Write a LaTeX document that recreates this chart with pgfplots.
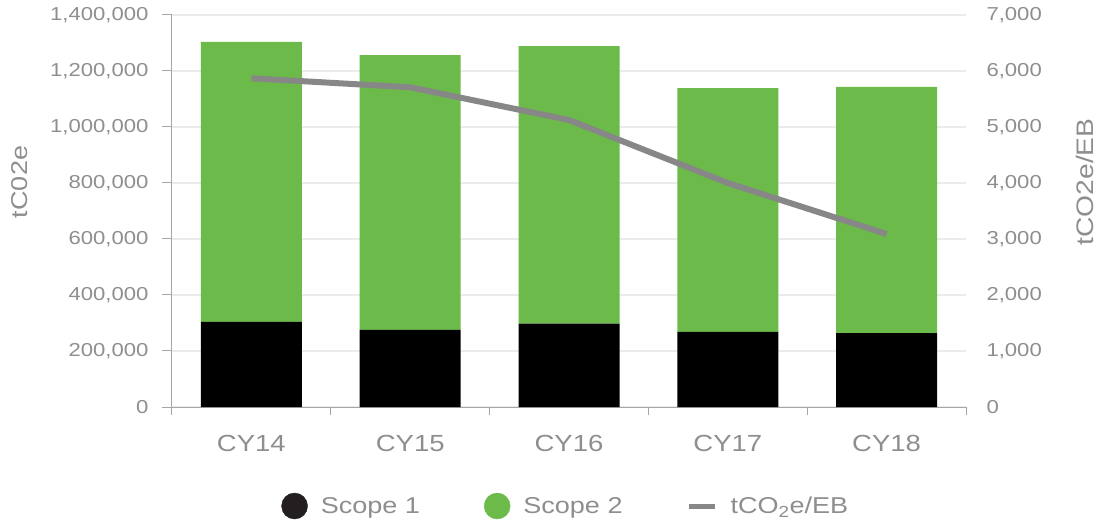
\documentclass[border=0pt]{standalone}
\usepackage{fontspec}
\setmainfont{Liberation Sans}[FakeStretch=1.18]
\usepackage{pgfplots}
\pgfplotsset{compat=1.18}
\definecolor{txt}{HTML}{8E8E8E}
\definecolor{grn}{HTML}{6CBB4A}
\definecolor{blk}{HTML}{000000}
\definecolor{lgblk}{HTML}{231F20}
\definecolor{ln}{HTML}{878787}
\definecolor{grd}{HTML}{EBEBEB}
\definecolor{axc}{HTML}{A6A6A6}
\begin{document}
\begin{tikzpicture}
\path[use as bounding box] (-172bp,-120bp) rectangle (941bp,407bp);
\begin{axis}[
  at={(0,0)}, anchor=south west,
  scale only axis, width=794bp, height=392bp,
  xmin=-0.5, xmax=4.5, ymin=0, ymax=1400000,
  ytick={0,200000,400000,600000,800000,1000000,1200000,1400000},
  scaled y ticks=false,
  /pgf/number format/assume math mode=true,
  yticklabel style={/pgf/number format/fixed, /pgf/number format/precision=0, /pgf/number format/1000 sep={,}, font=\fontsize{18.8}{22}\selectfont, color=txt, xshift=-10bp},
  ybar stacked, bar width=0.636,
  axis lines*=left,
  axis line style={axc, line width=1bp},
  xtick={0,1,2,3,4},
  xticklabels={CY14,CY15,CY16,CY17,CY18},
  xticklabel style={font=\fontsize{23.4}{27}\selectfont, color=txt, yshift=-15bp},
  major x tick style={draw=none},
  minor xtick={-0.5,0.5,1.5,2.5,3.5,4.5},
  tick align=outside,
  major tick length=10bp, minor tick length=8bp,
  tick style={axc, line width=1bp},
  ymajorgrids, grid style={grd, line width=1.5bp},
  ylabel={tC02e},
  every axis y label/.style={at={(rel axis cs:0,0.574)}, rotate=90, anchor=center, yshift=152bp, font=\fontsize{23}{27}\selectfont, color=txt},
]
\addplot[fill=blk, draw=none] coordinates {(0,303600) (1,275000) (2,297500) (3,267900) (4,264000)};
\addplot[fill=grn, draw=none] coordinates {(0,1000000) (1,982000) (2,991500) (3,871100) (4,879000)};
\end{axis}
\begin{axis}[
  at={(0,0)}, anchor=south west,
  scale only axis, width=794bp, height=392bp,
  xmin=-0.5, xmax=4.5, ymin=0, ymax=7000,
  ytick={0,1000,2000,3000,4000,5000,6000,7000},
  axis y line*=right, axis x line=none,
  y axis line style={draw=none},
  ytick style={draw=none},
  /pgf/number format/assume math mode=true,
  yticklabel style={/pgf/number format/fixed, /pgf/number format/precision=0, /pgf/number format/1000 sep={,}, font=\fontsize{18.8}{22}\selectfont, color=txt, xshift=17bp},
  ylabel={tCO2e/EB},
  every axis y label/.style={at={(rel axis cs:1,0.574)}, rotate=90, anchor=center, yshift=-119bp, font=\fontsize{24}{28}\selectfont, color=txt},
  legend columns=3,
  legend style={draw=none, fill=none, at={(0.496,-0.2526)}, anchor=center,
    font=\fontsize{23}{27}\selectfont, text=txt,
    /tikz/every odd column/.append style={column sep=11bp},
    /tikz/every even column/.append style={column sep=62bp}},
]
\addlegendimage{legend image code/.code={\fill[lgblk] (13bp,0bp) circle (13bp);}}
\addlegendentry{Scope 1}
\addlegendimage{legend image code/.code={\fill[grn] (13bp,0bp) circle (13bp);}}
\addlegendentry{Scope 2}
\addplot[ln, line width=6bp, legend image code/.code={\draw[ln, line width=5bp] (0bp,0bp) -- (26bp,0bp);}] coordinates {(0,5870) (1,5709) (2,5125) (3,4000) (4,3089)};
\addlegendentry{tCO\textsubscript{2}e/EB}
\end{axis}
\end{tikzpicture}
\end{document}
